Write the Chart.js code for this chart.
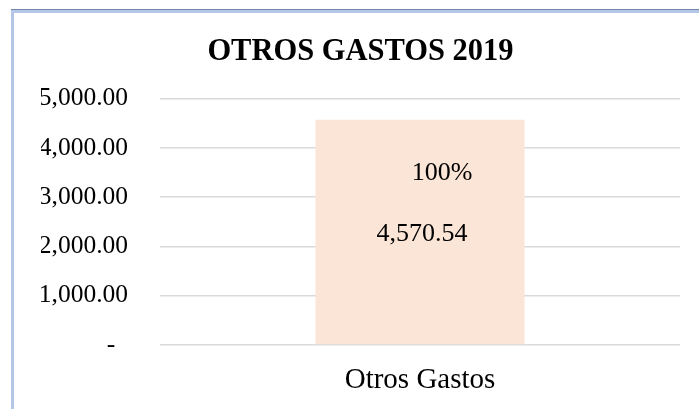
<!DOCTYPE html>
<html>
<head>
<meta charset="utf-8">
<script src="https://cdn.jsdelivr.net/npm/chart.js@4"></script>
<style>
  body { margin: 0; background: #fff; }
  #frame {
    position: absolute; left: 11px; top: 10px; width: 800px; height: 500px;
    border-top: 3px solid #b4c7e7; border-left: 3px solid #b4c7e7;
    box-shadow: 0 -1px 0 #6f87ad;
  }
  #wrap { position: absolute; left: 0; top: 0; width: 699px; height: 409px; }
</style>
</head>
<body>
<div id="frame"></div>
<div id="wrap"><canvas id="otrosGastosChart" width="699" height="409"></canvas></div>
<script>
const categories = ["Otros Gastos"];
const values = [4570.54];
const yTicks = [0, 1000, 2000, 3000, 4000, 5000];
const chartTitle = "OTROS GASTOS 2019";

const serif = "'Liberation Serif', 'Times New Roman', serif";
const total = values.reduce((a, b) => a + b, 0);

const fmt = (v) =>
  v.toLocaleString("en-US", { minimumFractionDigits: 2, maximumFractionDigits: 2 });

// draws the value and the percentage inside the bar
const barLabels = {
  id: "barLabels",
  afterDatasetsDraw(chart) {
    const ctx = chart.ctx;
    const meta = chart.getDatasetMeta(0);
    ctx.save();
    ctx.fillStyle = "#000";
    ctx.font = "26px " + serif;
    ctx.textAlign = "center";
    ctx.textBaseline = "middle";
    meta.data.forEach((bar, i) => {
      const h = bar.base - bar.y;
      const pct = Math.round((values[i] / total) * 100) + "%";
      ctx.fillText(pct, bar.x + 22, bar.y + h * 0.237);
      ctx.fillText(fmt(values[i]), bar.x + 2, bar.y + h * 0.51);
    });
    ctx.restore();
  },
};

new Chart(document.getElementById("otrosGastosChart"), {
  type: "bar",
  data: {
    labels: categories,
    datasets: [
      {
        data: values,
        backgroundColor: "#fbe5d6",
        borderWidth: 0,
        barPercentage: 0.402,
        categoryPercentage: 1,
      },
    ],
  },
  options: {
    responsive: false,
    animation: false,
    layout: { padding: { left: 41, right: 19, top: 0, bottom: 0 } },
    plugins: {
      legend: { display: false },
      tooltip: { enabled: false },
      title: {
        display: true,
        text: chartTitle,
        color: "#000",
        font: { family: serif, size: 30.5, weight: "bold" },
        padding: { top: 34, bottom: 28 },
      },
    },
    scales: {
      x: {
        grid: { display: false, drawTicks: false },
        border: { display: false },
        ticks: { color: "#000", font: { family: serif, size: 29 }, padding: 18 },
        afterFit(scale) { scale.height = 64; },
      },
      y: {
        min: 0,
        max: 5000,
        afterBuildTicks(scale) { scale.ticks = yTicks.map((v) => ({ value: v })); },
        grid: { color: "#d9d9d9", lineWidth: 1.5, drawTicks: false },
        border: { display: false },
        ticks: {
          color: "#000",
          font: { family: serif, size: 25.5 },
          padding: 32,
          callback: (v) => (v === 0 ? "-  " : fmt(v)),
        },
        afterFit(scale) { scale.width = 119; },
      },
    },
  },
  plugins: [barLabels],
});
</script>
</body>
</html>
